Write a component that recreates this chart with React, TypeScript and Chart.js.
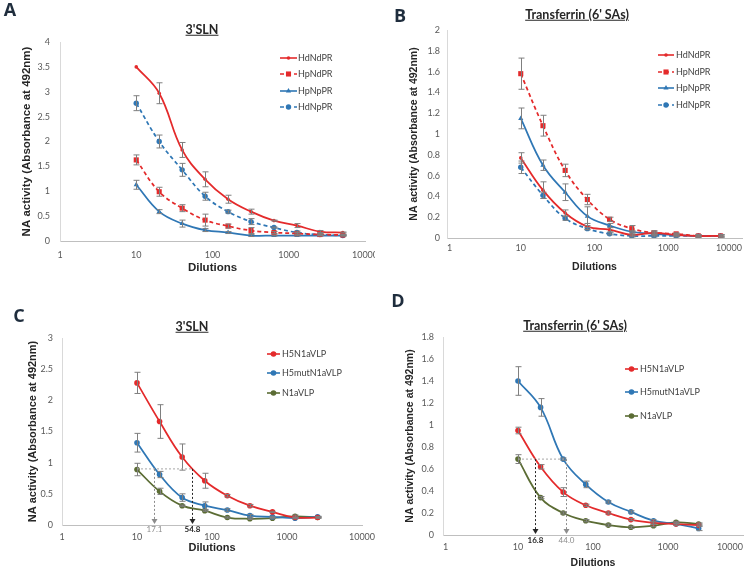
import React, { useEffect, useRef } from "react";
import { Chart, registerables } from "chart.js";

Chart.register(...registerables);

// ---------------- Data ----------------
const DILUTIONS_AB = [10, 20, 40, 80, 160, 320, 640, 1280, 2560, 5120];
const DILUTIONS_CD = [10, 20, 40, 80, 160, 320, 640, 1280, 2560];
const X_TICKS = [1, 10, 100, 1000, 10000];

const SERIES_AB = ["HdNdPR", "HpNdPR", "HpNpPR", "HdNpPR"];
const SERIES_CD = ["H5N1aVLP", "H5mutN1aVLP", "N1aVLP"];

// Panel A – 3'SLN
const A_HdNdPR = [3.5, 2.97, 1.83, 1.24, 0.84, 0.59, 0.41, 0.31, 0.19, 0.17];
const A_HdNdPR_ERR = [0, 0.21, 0.15, 0.15, 0.08, 0.05, 0.01, 0.04, 0.02, 0.01];
const A_HpNdPR = [1.63, 0.99, 0.66, 0.42, 0.3, 0.21, 0.17, 0.15, 0.13, 0.12];
const A_HpNdPR_ERR = [0.1, 0.09, 0.07, 0.12, 0.04, 0.06, 0.02, 0.02, 0.01, 0.01];
const A_HpNpPR = [1.13, 0.59, 0.35, 0.22, 0.17, 0.11, 0.11, 0.11, 0.11, 0.11];
const A_HpNpPR_ERR = [0.09, 0.04, 0.07, 0.03, 0.02, 0.02, 0.01, 0.01, 0.01, 0.01];
const A_HdNpPR = [2.77, 2.0, 1.43, 0.9, 0.59, 0.39, 0.27, 0.17, 0.13, 0.11];
const A_HdNpPR_ERR = [0.15, 0.13, 0.13, 0.08, 0.03, 0.06, 0.01, 0.03, 0.02, 0.01];

// Panel B – Transferrin (6' SAs)
const B_HdNdPR = [0.77, 0.46, 0.24, 0.11, 0.08, 0.03, 0.05, 0.03, 0.02, 0.02];
const B_HdNdPR_ERR = [0.05, 0.08, 0.03, 0.03, 0.02, 0.01, 0.01, 0.01, 0.01, 0.01];
const B_HpNdPR = [1.58, 1.08, 0.65, 0.37, 0.18, 0.09, 0.05, 0.04, 0.02, 0.02];
const B_HpNdPR_ERR = [0.15, 0.1, 0.06, 0.05, 0.02, 0.03, 0.02, 0.01, 0.01, 0.01];
const B_HpNpPR = [1.15, 0.7, 0.44, 0.21, 0.12, 0.06, 0.04, 0.03, 0.02, 0.02];
const B_HpNpPR_ERR = [0.1, 0.05, 0.08, 0.09, 0.02, 0.01, 0.01, 0.01, 0.01, 0.01];
const B_HdNpPR = [0.68, 0.41, 0.19, 0.09, 0.04, 0.02, 0.02, 0.02, 0.02, 0.02];
const B_HdNpPR_ERR = [0.06, 0.03, 0.02, 0.01, 0.01, 0.01, 0.01, 0.01, 0.01, 0.01];

// Panel C – 3'SLN
const C_H5N1 = [2.28, 1.66, 1.09, 0.71, 0.47, 0.31, 0.21, 0.12, 0.12];
const C_H5N1_ERR = [0.17, 0.27, 0.21, 0.12, 0.02, 0.02, 0.01, 0.01, 0.01];
const C_H5mut = [1.32, 0.81, 0.44, 0.31, 0.24, 0.15, 0.13, 0.11, 0.13];
const C_H5mut_ERR = [0.15, 0.05, 0.06, 0.06, 0.02, 0.02, 0.01, 0.01, 0.01];
const C_N1 = [0.89, 0.54, 0.31, 0.23, 0.12, 0.1, 0.11, 0.14, 0.12];
const C_N1_ERR = [0.1, 0.05, 0.01, 0.01, 0.01, 0.01, 0.01, 0.02, 0.01];
const C_REF_Y = 0.9;
const C_REF_X = [17.1, 54.8];
const C_REF_LABELS = ["17.1", "54.8"];

// Panel D – Transferrin (6' SAs)
const D_H5N1 = [0.95, 0.62, 0.39, 0.27, 0.2, 0.14, 0.11, 0.1, 0.09];
const D_H5N1_ERR = [0.03, 0.02, 0.04, 0.01, 0.01, 0.01, 0.01, 0.01, 0.01];
const D_H5mut = [1.4, 1.16, 0.69, 0.46, 0.3, 0.21, 0.13, 0.1, 0.06];
const D_H5mut_ERR = [0.13, 0.08, 0.01, 0.03, 0.01, 0.01, 0.01, 0.01, 0.02];
const D_N1 = [0.69, 0.34, 0.2, 0.13, 0.09, 0.07, 0.085, 0.115, 0.1];
const D_N1_ERR = [0.04, 0.01, 0.01, 0.01, 0.01, 0.01, 0.01, 0.01, 0.01];
const D_REF_Y = 0.69;
const D_REF_X = [16.8, 44.0];
const D_REF_LABELS = ["16.8", "44.0"];

const Y_LABEL = "NA activity (Absorbance at 492nm)";
const X_LABEL = "Dilutions";

// ---------------- Styles ----------------
const RED = "#e42a2b";
const BLUE = "#2f77b5";
const GREEN = "#5b6c34";
const DASH = [4, 3];

type SeriesStyle = { color: string; dash: number[]; marker: string; radius: number };

const AB_STYLES: SeriesStyle[] = [
  { color: RED, dash: [], marker: "circle", radius: 1.8 },
  { color: RED, dash: DASH, marker: "rect", radius: 3.6 },
  { color: BLUE, dash: [], marker: "triangle", radius: 3 },
  { color: BLUE, dash: DASH, marker: "circle", radius: 2.7 },
];
const CD_STYLES: SeriesStyle[] = [
  { color: RED, dash: [], marker: "circle", radius: 2.8 },
  { color: BLUE, dash: [], marker: "circle", radius: 2.8 },
  { color: GREEN, dash: [], marker: "circle", radius: 2.8 },
];

function drawMarker(ctx: CanvasRenderingContext2D, style: string, x: number, y: number, r: number, color: string) {
  ctx.save();
  ctx.fillStyle = color;
  ctx.setLineDash([]);
  ctx.beginPath();
  if (style === "rect") {
    const s = r * Math.SQRT1_2;
    ctx.rect(x - s, y - s, 2 * s, 2 * s);
  } else if (style === "triangle") {
    ctx.moveTo(x, y - r);
    ctx.lineTo(x + r * 0.866, y + r * 0.5);
    ctx.lineTo(x - r * 0.866, y + r * 0.5);
    ctx.closePath();
  } else {
    ctx.arc(x, y, r, 0, Math.PI * 2);
  }
  ctx.fill();
  ctx.restore();
}

type PanelCfg = {
  left: number;
  top: number;
  w: number;
  h: number;
  pad: { left: number; right: number; top: number; bottom: number };
  yWidth: number;
  xHeight: number;
  yTickPad: number;
  xTickPad: number;
  xAlign: string;
  titleFont: number;
  yMax: number;
  yStep: number;
  xs: number[];
  names: string[];
  values: number[][];
  errors: number[][];
  styles: SeriesStyle[];
  legend: { x1: number; x2: number; tx: number; ys: number[] };
  ref?: { y: number; xs: number[]; labels: string[]; colors: string[]; bold: boolean[]; labelDy: number };
};

function buildChart(canvas: HTMLCanvasElement, cfg: PanelCfg) {
  const errorBars = {
    id: "errorBars",
    afterDatasetsDraw(chart: any) {
      const ctx = chart.ctx as CanvasRenderingContext2D;
      const ys = chart.scales.y;
      ctx.save();
      ctx.strokeStyle = "#7f7f7f";
      ctx.lineWidth = 1;
      chart.data.datasets.forEach((ds: any, di: number) => {
        const meta = chart.getDatasetMeta(di);
        meta.data.forEach((pt: any, i: number) => {
          const e = ds.errors[i];
          const v = ds.data[i].y;
          if (!e) return;
          const x = Math.round(pt.x) + 0.5;
          const y1 = ys.getPixelForValue(v + e);
          const y2 = ys.getPixelForValue(Math.max(0, v - e));
          ctx.beginPath();
          ctx.moveTo(x, y1);
          ctx.lineTo(x, y2);
          ctx.moveTo(x - 3, y1);
          ctx.lineTo(x + 3, y1);
          ctx.moveTo(x - 3, y2);
          ctx.lineTo(x + 3, y2);
          ctx.stroke();
        });
      });
      ctx.restore();
    },
  };

  const legend = {
    id: "customLegend",
    afterDraw(chart: any) {
      const ctx = chart.ctx as CanvasRenderingContext2D;
      const L = cfg.legend;
      ctx.save();
      cfg.names.forEach((name, i) => {
        const st = cfg.styles[i];
        const y = L.ys[i];
        ctx.strokeStyle = st.color;
        ctx.lineWidth = 1.6;
        ctx.setLineDash(st.dash);
        ctx.beginPath();
        ctx.moveTo(L.x1, y);
        ctx.lineTo(L.x2, y);
        ctx.stroke();
        drawMarker(ctx, st.marker, (L.x1 + L.x2) / 2, y, st.radius, st.color);
        ctx.setLineDash([]);
        ctx.fillStyle = "#404040";
        ctx.font = "9px Lato";
        ctx.textBaseline = "middle";
        ctx.textAlign = "left";
        ctx.fillText(name, L.tx, y);
      });
      ctx.restore();
    },
  };

  const refLines = {
    id: "refLines",
    afterDatasetsDraw(chart: any) {
      const R = cfg.ref;
      if (!R) return;
      const ctx = chart.ctx as CanvasRenderingContext2D;
      const xs = chart.scales.x;
      const ys = chart.scales.y;
      const yPix = ys.getPixelForValue(R.y);
      const bottom = chart.chartArea.bottom;
      ctx.save();
      ctx.lineWidth = 1;
      ctx.setLineDash([2, 2]);
      ctx.strokeStyle = "#a6a6a6";
      ctx.beginPath();
      ctx.moveTo(xs.getPixelForValue(cfg.xs[0]), yPix);
      ctx.lineTo(xs.getPixelForValue(R.xs[R.xs.length - 1]), yPix);
      ctx.stroke();
      R.xs.forEach((xv, i) => {
        const x = Math.round(xs.getPixelForValue(xv)) + 0.5;
        const col = R.colors[i];
        ctx.strokeStyle = col;
        ctx.setLineDash([2, 2]);
        ctx.beginPath();
        ctx.moveTo(x, yPix);
        ctx.lineTo(x, bottom - 5);
        ctx.stroke();
        ctx.setLineDash([]);
        ctx.fillStyle = col;
        ctx.beginPath();
        ctx.moveTo(x - 3, bottom - 6);
        ctx.lineTo(x + 3, bottom - 6);
        ctx.lineTo(x, bottom - 1);
        ctx.closePath();
        ctx.fill();
        ctx.font = (R.bold[i] ? "bold " : "") + "8px Lato";
        ctx.textAlign = "center";
        ctx.textBaseline = "middle";
        ctx.fillText(R.labels[i], x, bottom + R.labelDy);
      });
      ctx.restore();
    },
  };

  const datasets = cfg.names.map((name, i) => {
    const st = cfg.styles[i];
    return {
      label: name,
      data: cfg.xs.map((x, j) => ({ x, y: cfg.values[i][j] })),
      errors: cfg.errors[i],
      borderColor: st.color,
      backgroundColor: st.color,
      borderWidth: 1.75,
      borderDash: st.dash,
      pointStyle: st.marker,
      pointRadius: st.radius,
      pointBorderWidth: 0,
      pointBackgroundColor: st.color,
      tension: 0.4,
      fill: false,
    };
  });

  const tickFont = { family: "Lato", size: 9 };
  const titleFont = { family: "'Liberation Sans', Arial, sans-serif", size: cfg.titleFont, weight: "bold" as const };

  return new Chart(canvas, {
    type: "line",
    data: { datasets } as any,
    plugins: [errorBars, refLines, legend],
    options: {
      responsive: false,
      animation: false,
      events: [],
      layout: { padding: cfg.pad },
      plugins: { legend: { display: false }, tooltip: { enabled: false } },
      scales: {
        x: {
          type: "logarithmic",
          min: 1,
          max: 10000,
          grid: { display: false, drawTicks: false },
          border: { color: "#bfbfbf", width: 1 },
          ticks: {
            autoSkip: false,
            maxRotation: 0,
            align: cfg.xAlign,
            padding: cfg.xTickPad,
            color: "#595959",
            font: tickFont,
            callback: (v: any) => String(v),
          },
          afterBuildTicks: (s: any) => {
            s.ticks = X_TICKS.map((v) => ({ value: v }));
          },
          afterFit: (s: any) => {
            s.height = cfg.xHeight;
            s.paddingLeft = 0;
            s.paddingRight = 0;
          },
          title: { display: true, text: X_LABEL, color: "#262626", font: titleFont, padding: 0 },
        },
        y: {
          type: "linear",
          min: 0,
          max: cfg.yMax,
          grid: { display: false, drawTicks: false },
          border: { color: "#d9d9d9", width: 1 },
          ticks: {
            stepSize: cfg.yStep,
            padding: cfg.yTickPad,
            color: "#595959",
            font: tickFont,
            callback: (v: any) => String(Math.round(Number(v) * 10) / 10),
          },
          afterFit: (s: any) => {
            s.width = cfg.yWidth;
            s.paddingTop = 0;
            s.paddingBottom = 0;
          },
          title: { display: true, text: Y_LABEL, color: "#262626", font: titleFont, padding: 0 },
        },
      },
    } as any,
  });
}

const PANELS: PanelCfg[] = [
  {
    left: 0, top: 0, w: 375, h: 280,
    pad: { left: 20, right: 10, top: 42, bottom: 5 },
    yWidth: 40, xHeight: 34, yTickPad: 10, xTickPad: 8.5, xAlign: "center", titleFont: 11.5,
    yMax: 4, yStep: 0.5,
    xs: DILUTIONS_AB, names: SERIES_AB,
    values: [A_HdNdPR, A_HpNdPR, A_HpNpPR, A_HdNpPR],
    errors: [A_HdNdPR_ERR, A_HpNdPR_ERR, A_HpNpPR_ERR, A_HdNpPR_ERR],
    styles: AB_STYLES,
    legend: { x1: 280, x2: 297, tx: 298, ys: [58, 74, 91, 107] },
  },
  {
    left: 375, top: 0, w: 375, h: 280,
    pad: { left: 33, right: 8, top: 30, bottom: 7 },
    yWidth: 39, xHeight: 35, yTickPad: 7, xTickPad: 4.6, xAlign: "inner", titleFont: 10.5,
    yMax: 2, yStep: 0.2,
    xs: DILUTIONS_AB, names: SERIES_AB,
    values: [B_HdNdPR, B_HpNdPR, B_HpNpPR, B_HdNpPR],
    errors: [B_HdNdPR_ERR, B_HpNdPR_ERR, B_HpNpPR_ERR, B_HdNpPR_ERR],
    styles: AB_STYLES,
    legend: { x1: 283, x2: 299, tx: 301, ys: [55, 72, 88, 105] },
  },
  {
    left: 0, top: 280, w: 375, h: 287,
    pad: { left: 26, right: 13, top: 58, bottom: 12 },
    yWidth: 36, xHeight: 30, yTickPad: 9, xTickPad: 6.3, xAlign: "center", titleFont: 11,
    yMax: 3, yStep: 0.5,
    xs: DILUTIONS_CD, names: SERIES_CD,
    values: [C_H5N1, C_H5mut, C_N1],
    errors: [C_H5N1_ERR, C_H5mut_ERR, C_N1_ERR],
    styles: CD_STYLES,
    legend: { x1: 267, x2: 280, tx: 282, ys: [74, 93, 113] },
    ref: { y: C_REF_Y, xs: C_REF_X, labels: C_REF_LABELS, colors: ["#8c8c8c", "#262626"], bold: [false, true], labelDy: 4 },
  },
  {
    left: 375, top: 280, w: 375, h: 300,
    pad: { left: 29, right: 7, top: 57, bottom: 11 },
    yWidth: 39, xHeight: 34, yTickPad: 9, xTickPad: 6.3, xAlign: "inner", titleFont: 10.5,
    yMax: 1.8, yStep: 0.2,
    xs: DILUTIONS_CD, names: SERIES_CD,
    values: [D_H5N1, D_H5mut, D_N1],
    errors: [D_H5N1_ERR, D_H5mut_ERR, D_N1_ERR],
    styles: CD_STYLES,
    legend: { x1: 250, x2: 263, tx: 265, ys: [89, 112, 136] },
    ref: { y: D_REF_Y, xs: D_REF_X, labels: D_REF_LABELS, colors: ["#262626", "#8c8c8c"], bold: [true, false], labelDy: 5 },
  },
];

function Panel({ cfg }: { cfg: PanelCfg }) {
  const ref = useRef<HTMLCanvasElement>(null);
  useEffect(() => {
    const chart = buildChart(ref.current as HTMLCanvasElement, cfg);
    return () => chart.destroy();
  }, [cfg]);
  return (
    <canvas
      ref={ref}
      width={cfg.w}
      height={cfg.h}
      style={{ position: "absolute", left: cfg.left, top: cfg.top, width: cfg.w, height: cfg.h }}
    />
  );
}

const TITLES = [
  { text: "3'SLN", x: 202, y: 30 },
  { text: "Transferrin (6' SAs)", x: 577, y: 15 },
  { text: "3'SLN", x: 192, y: 327 },
  { text: "Transferrin (6' SAs)", x: 575, y: 326 },
];
const LETTERS = [
  { text: "A", x: 10, y: 9 },
  { text: "B", x: 400, y: 15 },
  { text: "C", x: 19, y: 315 },
  { text: "D", x: 398, y: 300 },
];

export default function App() {
  return (
    <div
      style={{
        position: "fixed",
        left: 0,
        top: 0,
        width: 750,
        height: 567,
        overflow: "hidden",
        background: "#ffffff",
      }}
    >
      {PANELS.map((p, i) => (
        <Panel key={i} cfg={p} />
      ))}
      {TITLES.map((t, i) => (
        <div
          key={"t" + i}
          style={{
            position: "absolute",
            left: t.x,
            top: t.y,
            transform: "translate(-50%, -50%)",
            fontFamily: "Lato, sans-serif",
            fontWeight: 700,
            fontSize: 12.5,
            lineHeight: 1,
            color: "#262626",
            textDecoration: "underline",
            whiteSpace: "nowrap",
          }}
        >
          {t.text}
        </div>
      ))}
      {LETTERS.map((t, i) => (
        <div
          key={"l" + i}
          style={{
            position: "absolute",
            left: t.x,
            top: t.y,
            transform: "translate(-50%, -50%)",
            fontFamily: "'Open Sans', sans-serif",
            fontWeight: 700,
            fontSize: 18,
            lineHeight: 1,
            color: "#1f2d3d",
          }}
        >
          {t.text}
        </div>
      ))}
    </div>
  );
}
